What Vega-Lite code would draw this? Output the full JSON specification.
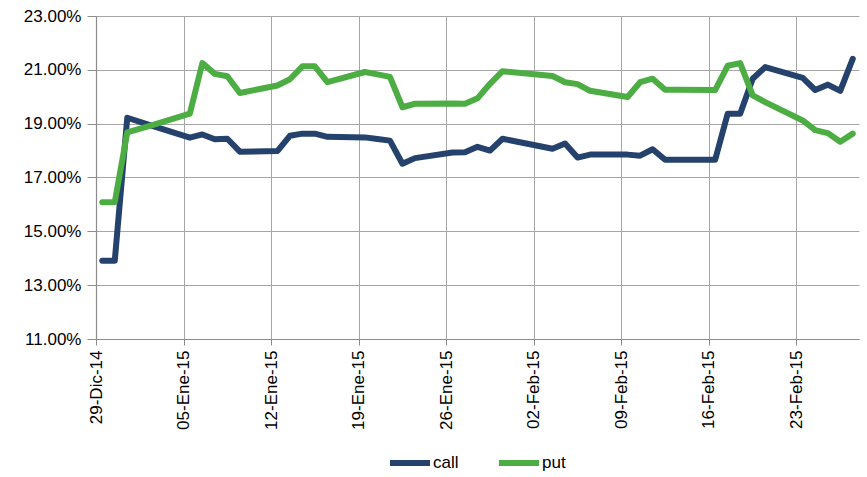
{
  "$schema": "https://vega.github.io/schema/vega-lite/v6.json",
  "autosize": {"type": "none"},
  "padding": {"left": 96, "top": 16, "right": 8, "bottom": 138},
  "width": 763,
  "height": 323,
  "background": "white",
  "config": {
    "view": {"stroke": null},
    "font": "Liberation Sans",
    "axis": {"labelFont": "Liberation Sans", "labelColor": "#000000", "domainColor": "#8c8c8c", "tickColor": "#8c8c8c", "gridColor": "#a6a6a6", "gridWidth": 1, "domainWidth": 1.2}
  },
  "data": {"values": [
    {"date": "2014-12-29T12:00:00", "serie": "call", "value": 0.1391},
    {"date": "2014-12-30T12:00:00", "serie": "call", "value": 0.1391},
    {"date": "2014-12-31T12:00:00", "serie": "call", "value": 0.1922},
    {"date": "2015-01-02T12:00:00", "serie": "call", "value": 0.1892},
    {"date": "2015-01-05T12:00:00", "serie": "call", "value": 0.1848},
    {"date": "2015-01-06T12:00:00", "serie": "call", "value": 0.1860},
    {"date": "2015-01-07T12:00:00", "serie": "call", "value": 0.1842},
    {"date": "2015-01-08T12:00:00", "serie": "call", "value": 0.1844},
    {"date": "2015-01-09T12:00:00", "serie": "call", "value": 0.1796},
    {"date": "2015-01-12T12:00:00", "serie": "call", "value": 0.1798},
    {"date": "2015-01-13T12:00:00", "serie": "call", "value": 0.1855},
    {"date": "2015-01-14T12:00:00", "serie": "call", "value": 0.1863},
    {"date": "2015-01-15T12:00:00", "serie": "call", "value": 0.1863},
    {"date": "2015-01-16T12:00:00", "serie": "call", "value": 0.1851},
    {"date": "2015-01-19T12:00:00", "serie": "call", "value": 0.1849},
    {"date": "2015-01-20T12:00:00", "serie": "call", "value": 0.1843},
    {"date": "2015-01-21T12:00:00", "serie": "call", "value": 0.1837},
    {"date": "2015-01-22T12:00:00", "serie": "call", "value": 0.1751},
    {"date": "2015-01-23T12:00:00", "serie": "call", "value": 0.1772},
    {"date": "2015-01-26T12:00:00", "serie": "call", "value": 0.1793},
    {"date": "2015-01-27T12:00:00", "serie": "call", "value": 0.1794},
    {"date": "2015-01-28T12:00:00", "serie": "call", "value": 0.1814},
    {"date": "2015-01-29T12:00:00", "serie": "call", "value": 0.1800},
    {"date": "2015-01-30T12:00:00", "serie": "call", "value": 0.1844},
    {"date": "2015-02-03T12:00:00", "serie": "call", "value": 0.1807},
    {"date": "2015-02-04T12:00:00", "serie": "call", "value": 0.1826},
    {"date": "2015-02-05T12:00:00", "serie": "call", "value": 0.1774},
    {"date": "2015-02-06T12:00:00", "serie": "call", "value": 0.1785},
    {"date": "2015-02-09T12:00:00", "serie": "call", "value": 0.1785},
    {"date": "2015-02-10T12:00:00", "serie": "call", "value": 0.1781},
    {"date": "2015-02-11T12:00:00", "serie": "call", "value": 0.1805},
    {"date": "2015-02-12T12:00:00", "serie": "call", "value": 0.1766},
    {"date": "2015-02-13T12:00:00", "serie": "call", "value": 0.1766},
    {"date": "2015-02-16T12:00:00", "serie": "call", "value": 0.1766},
    {"date": "2015-02-17T12:00:00", "serie": "call", "value": 0.1937},
    {"date": "2015-02-18T12:00:00", "serie": "call", "value": 0.1937},
    {"date": "2015-02-19T12:00:00", "serie": "call", "value": 0.2067},
    {"date": "2015-02-20T12:00:00", "serie": "call", "value": 0.2110},
    {"date": "2015-02-23T12:00:00", "serie": "call", "value": 0.2070},
    {"date": "2015-02-24T12:00:00", "serie": "call", "value": 0.2025},
    {"date": "2015-02-25T12:00:00", "serie": "call", "value": 0.2045},
    {"date": "2015-02-26T12:00:00", "serie": "call", "value": 0.2022},
    {"date": "2015-02-27T12:00:00", "serie": "call", "value": 0.2141},
    {"date": "2014-12-29T12:00:00", "serie": "put", "value": 0.1608},
    {"date": "2014-12-30T12:00:00", "serie": "put", "value": 0.1608},
    {"date": "2014-12-31T12:00:00", "serie": "put", "value": 0.1868},
    {"date": "2015-01-02T12:00:00", "serie": "put", "value": 0.1895},
    {"date": "2015-01-05T12:00:00", "serie": "put", "value": 0.1937},
    {"date": "2015-01-06T12:00:00", "serie": "put", "value": 0.2125},
    {"date": "2015-01-07T12:00:00", "serie": "put", "value": 0.2085},
    {"date": "2015-01-08T12:00:00", "serie": "put", "value": 0.2076},
    {"date": "2015-01-09T12:00:00", "serie": "put", "value": 0.2014},
    {"date": "2015-01-12T12:00:00", "serie": "put", "value": 0.2042},
    {"date": "2015-01-13T12:00:00", "serie": "put", "value": 0.2065},
    {"date": "2015-01-14T12:00:00", "serie": "put", "value": 0.2113},
    {"date": "2015-01-15T12:00:00", "serie": "put", "value": 0.2113},
    {"date": "2015-01-16T12:00:00", "serie": "put", "value": 0.2054},
    {"date": "2015-01-19T12:00:00", "serie": "put", "value": 0.2092},
    {"date": "2015-01-20T12:00:00", "serie": "put", "value": 0.2083},
    {"date": "2015-01-21T12:00:00", "serie": "put", "value": 0.2074},
    {"date": "2015-01-22T12:00:00", "serie": "put", "value": 0.1961},
    {"date": "2015-01-23T12:00:00", "serie": "put", "value": 0.1974},
    {"date": "2015-01-26T12:00:00", "serie": "put", "value": 0.1975},
    {"date": "2015-01-27T12:00:00", "serie": "put", "value": 0.1974},
    {"date": "2015-01-28T12:00:00", "serie": "put", "value": 0.1994},
    {"date": "2015-01-29T12:00:00", "serie": "put", "value": 0.2048},
    {"date": "2015-01-30T12:00:00", "serie": "put", "value": 0.2095},
    {"date": "2015-02-03T12:00:00", "serie": "put", "value": 0.2077},
    {"date": "2015-02-04T12:00:00", "serie": "put", "value": 0.2054},
    {"date": "2015-02-05T12:00:00", "serie": "put", "value": 0.2047},
    {"date": "2015-02-06T12:00:00", "serie": "put", "value": 0.2022},
    {"date": "2015-02-09T12:00:00", "serie": "put", "value": 0.1999},
    {"date": "2015-02-10T12:00:00", "serie": "put", "value": 0.2054},
    {"date": "2015-02-11T12:00:00", "serie": "put", "value": 0.2067},
    {"date": "2015-02-12T12:00:00", "serie": "put", "value": 0.2026},
    {"date": "2015-02-13T12:00:00", "serie": "put", "value": 0.2026},
    {"date": "2015-02-16T12:00:00", "serie": "put", "value": 0.2025},
    {"date": "2015-02-17T12:00:00", "serie": "put", "value": 0.2115},
    {"date": "2015-02-18T12:00:00", "serie": "put", "value": 0.2125},
    {"date": "2015-02-19T12:00:00", "serie": "put", "value": 0.2005},
    {"date": "2015-02-20T12:00:00", "serie": "put", "value": 0.1980},
    {"date": "2015-02-23T12:00:00", "serie": "put", "value": 0.1912},
    {"date": "2015-02-24T12:00:00", "serie": "put", "value": 0.1876},
    {"date": "2015-02-25T12:00:00", "serie": "put", "value": 0.1865},
    {"date": "2015-02-26T12:00:00", "serie": "put", "value": 0.1833},
    {"date": "2015-02-27T12:00:00", "serie": "put", "value": 0.1863}
  ]},
  "mark": {"type": "line", "strokeWidth": 6, "strokeCap": "round", "strokeJoin": "round"},
  "encoding": {
    "x": {
      "field": "date", "type": "temporal", "title": null,
      "scale": {"domain": [{"year": 2014, "month": 12, "date": 29}, {"year": 2015, "month": 2, "date": 28}]},
      "axis": {
        "values": [
          {"year": 2014, "month": 12, "date": 29},
          {"year": 2015, "month": 1, "date": 5},
          {"year": 2015, "month": 1, "date": 12},
          {"year": 2015, "month": 1, "date": 19},
          {"year": 2015, "month": 1, "date": 26},
          {"year": 2015, "month": 2, "date": 2},
          {"year": 2015, "month": 2, "date": 9},
          {"year": 2015, "month": 2, "date": 16},
          {"year": 2015, "month": 2, "date": 23}
        ],
        "labelExpr": "timeFormat(datum.value, '%d') + '-' + ['Ene','Feb','Mar','Abr','May','Jun','Jul','Ago','Sep','Oct','Nov','Dic'][month(datum.value)] + '-' + timeFormat(datum.value, '%y')",
        "labelAngle": 270,
        "labelAlign": "right",
        "labelBaseline": "middle",
        "labelFontSize": 17,
        "labelPadding": 5,
        "tickSize": 6,
        "grid": true,
        "labelOverlap": false,
        "labelBound": false,
        "labelFlush": false
      }
    },
    "y": {
      "field": "value", "type": "quantitative", "title": null,
      "scale": {"domain": [0.11, 0.23], "nice": false, "zero": false},
      "axis": {
        "values": [0.11, 0.13, 0.15, 0.17, 0.19, 0.21, 0.23],
        "format": ".2%",
        "labelFontSize": 17,
        "tickSize": 9,
        "labelPadding": 6,
        "grid": true
      }
    },
    "color": {
      "field": "serie", "type": "nominal",
      "scale": {"domain": ["call", "put"], "range": ["#24426B", "#4CAD43"]},
      "legend": {
        "title": null,
        "orient": "none",
        "legendX": 291,
        "legendY": 424,
        "direction": "horizontal",
        "symbolType": "stroke",
        "symbolSize": 1600,
        "symbolStrokeWidth": 6,
        "labelFont": "Liberation Sans",
        "labelFontSize": 17,
        "labelColor": "#000000",
        "labelOffset": 0,
        "columnPadding": 28
      }
    }
  }
}
